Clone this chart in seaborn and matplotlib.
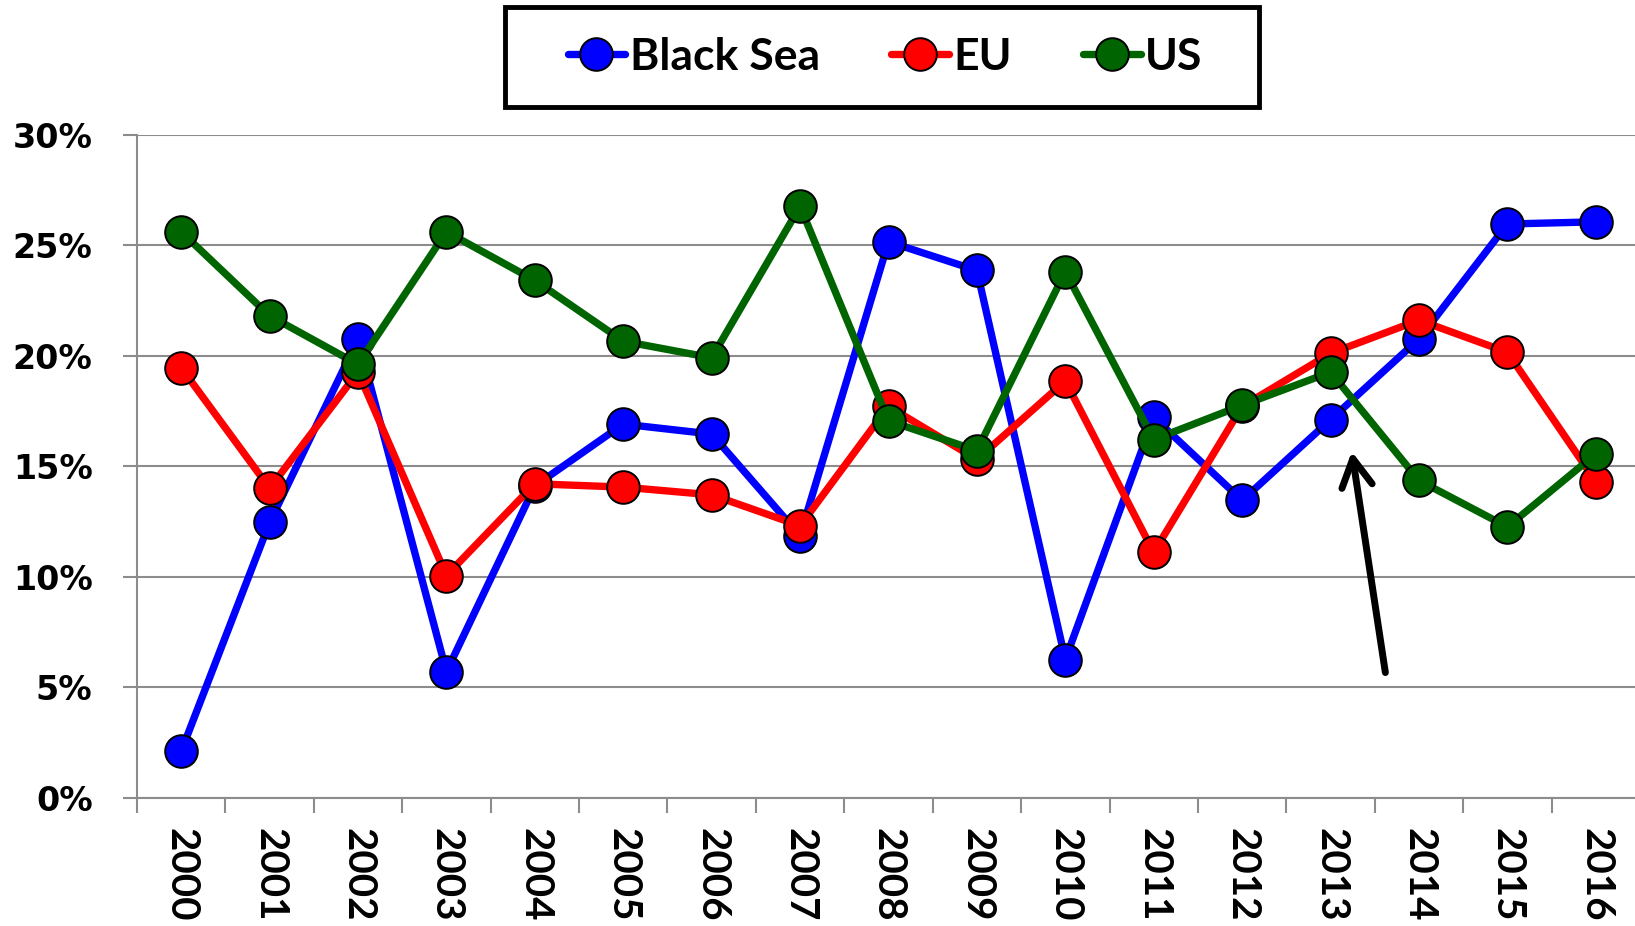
import numpy as np
import pandas as pd
import matplotlib
matplotlib.use("Agg")
import matplotlib.pyplot as plt
from matplotlib.patches import Rectangle
from matplotlib.lines import Line2D
import seaborn as sns

years = [str(y) for y in range(2000, 2017)]
black_sea = [2.1, 12.45, 20.75, 5.7, 14.1, 16.9, 16.45, 11.85, 25.15, 23.85, 6.25, 17.2, 13.45, 17.1, 20.75, 25.95, 26.05]
eu = [19.45, 14.0, 19.25, 10.05, 14.2, 14.05, 13.7, 12.3, 17.7, 15.3, 18.85, 11.1, 17.7, 20.1, 21.6, 20.15, 14.3]
us = [25.6, 21.8, 19.6, 25.6, 23.4, 20.65, 19.9, 26.75, 17.05, 15.7, 23.8, 16.2, 17.75, 19.25, 14.35, 12.25, 15.55]
series_names = ["Black Sea", "EU", "US"]
series_values = [black_sea, eu, us]
colors = ["#0000FF", "#FF0000", "#006400"]
y_ticks = [0, 5, 10, 15, 20, 25, 30]

sns.set_style("white")
plt.rcParams["font.family"] = ["DejaVu Sans"]
plt.rcParams["text.color"] = "black"
plt.rcParams["xtick.color"] = "black"
plt.rcParams["ytick.color"] = "black"

fig = plt.figure(figsize=(16.35, 9.26), dpi=100)
L, R, T, B = 137, 1640, 134.5, 797.7
ax = fig.add_axes([L / 1635, 1 - B / 926, (R - L) / 1635, (B - T) / 926])

x = np.arange(len(years))
for name, vals, c in zip(series_names, series_values, colors):
    df = pd.DataFrame({"x": x, "y": vals})
    sns.lineplot(data=df, x="x", y="y", ax=ax, color=c, linewidth=5.3,
                 marker="o", markersize=23.5, markerfacecolor=c,
                 markeredgecolor="black", markeredgewidth=1.4, zorder=3)

ax.set_xlim(-0.5, len(years) - 0.5)
ax.set_ylim(0, 30)
ax.set_xlabel("")
ax.set_ylabel("")
ax.set_yticks(y_ticks)
ax.set_yticklabels([f"{v}%" for v in y_ticks], fontsize=24, fontweight="bold", color="black")
ax.set_xticks(x)
ax.set_xticklabels(years, rotation=-90, fontsize=29, fontweight="bold",
                   family="Lato", ha="center", va="top", color="black")
ax.set_xticks(np.arange(-0.5, len(years), 1.0), minor=True)
ax.tick_params(axis="x", which="major", length=0, pad=22)
ax.tick_params(axis="x", which="minor", length=11, width=1.5, color="#8c8c8c", direction="out", bottom=True)
ax.tick_params(axis="y", which="major", length=10, width=1.5, color="#8c8c8c", pad=22, left=True)
ax.grid(axis="y", color="#8c8c8c", linewidth=1.5)
ax.grid(axis="x", visible=False)
for s in ["top", "right"]:
    ax.spines[s].set_visible(False)
for s in ["left", "bottom"]:
    ax.spines[s].set_color("#8c8c8c")
    ax.spines[s].set_linewidth(1.5)

ax.annotate("", xy=(13.24, 15.66), xytext=(13.62, 5.66),
            arrowprops=dict(arrowstyle="->,head_length=1.0,head_width=0.55",
                            color="black", lw=5, mutation_scale=20, shrinkA=0, shrinkB=0),
            zorder=5)

# legend
handles = [Line2D([], [], color=c, linewidth=5.3, marker="o", markersize=23.5,
                  markerfacecolor=c, markeredgecolor="black", markeredgewidth=1.4)
           for c in colors]
fig.legend(handles, series_names, loc="center", bbox_to_anchor=(885 / 1635, 1 - 57 / 926),
           ncol=3, frameon=False, prop={"family": "Lato", "weight": "bold", "size": 32},
           handlelength=1.3, handletextpad=0.1, columnspacing=1.6, labelcolor="black")
fig.patches.append(Rectangle((505 / 1635, 1 - 107 / 926), (1259 - 505) / 1635, 100 / 926,
                             transform=fig.transFigure, fill=False, edgecolor="black",
                             linewidth=3.5, zorder=10))

fig.savefig("out.png", dpi=100)
